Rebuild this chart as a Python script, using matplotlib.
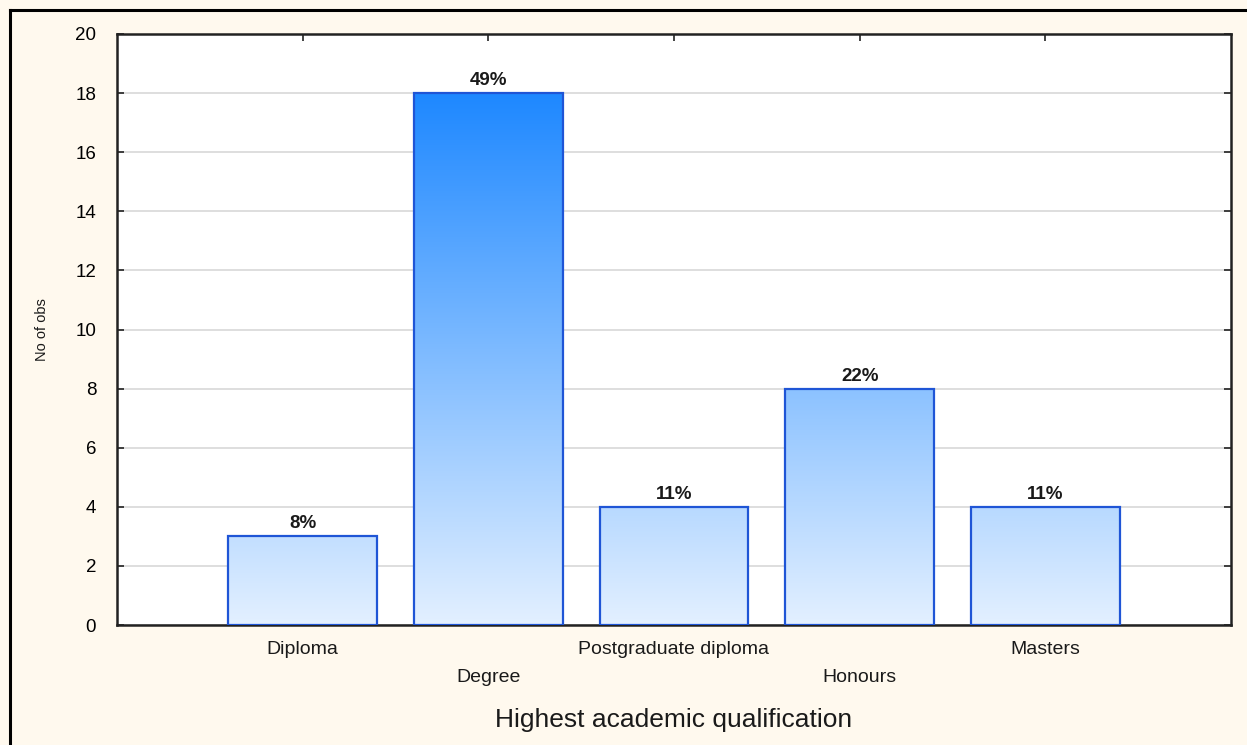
import matplotlib
matplotlib.use("Agg")
import matplotlib.pyplot as plt
import numpy as np
from matplotlib.colors import LinearSegmentedColormap
from matplotlib.lines import Line2D

categories = ["Diploma", "Degree", "Postgraduate diploma", "Honours", "Masters"]
counts = [3, 18, 4, 8, 4]
percent_labels = ["8%", "49%", "11%", "22%", "11%"]
y_ticks = [0, 2, 4, 6, 8, 10, 12, 14, 16, 18, 20]

plt.rcParams['font.family'] = ['Liberation Sans', 'DejaVu Sans']

W, H = 1247, 745
fig = plt.figure(figsize=(W / 100, H / 100), dpi=100)
fig.patch.set_facecolor("#FFF9EE")

ax = fig.add_axes([117 / W, 1 - 625 / H, (1231 - 117) / W, (625 - 34) / H])
ax.set_facecolor("white")

x = np.arange(1, len(categories) + 1)
cmap = LinearSegmentedColormap.from_list("bl", ["#E3F0FF", "#1E88FF"])
grad = np.linspace(0, 1, 256).reshape(-1, 1)

bars = ax.bar(x, counts, width=0.8, facecolor="none", edgecolor="#1F55D6",
              linewidth=1.6, zorder=3)
for b in bars:
    bx = b.get_x()
    bw = b.get_width()
    im = ax.imshow(grad, cmap=cmap, origin="lower", aspect="auto",
                   extent=[bx, bx + bw, 0, 18], vmin=0, vmax=1, zorder=2)
    im.set_clip_path(b)

for xi, c, lab in zip(x, counts, percent_labels):
    ax.annotate(lab, (xi, c), xytext=(0, 4), textcoords="offset pixels",
                ha="center", va="bottom", fontsize=13.5, fontweight="bold",
                color="#1a1a1a", zorder=4)

ax.set_xlim(0, 6)
ax.set_ylim(0, 20)
ax.set_yticks(y_ticks)
ax.set_yticklabels([str(v) for v in y_ticks], fontsize=13.5)
ax.set_xticks(x)
ax.set_xticklabels([])
ax.yaxis.grid(True, color="#D8D8D8", linewidth=1.2, zorder=1)
ax.set_axisbelow(True)
ax.tick_params(axis="both", direction="in", length=5, width=1.2,
               top=True, right=True, color="#222222")
ax.tick_params(axis="y", pad=15)
for s in ax.spines.values():
    s.set_linewidth(1.8)
    s.set_color("#222222")

for i, (xi, lab) in enumerate(zip(x, categories)):
    yoff = -25 if i % 2 == 0 else -52
    ax.annotate(lab, (xi, 0), xycoords=("data", "axes fraction"),
                xytext=(0, yoff), textcoords="offset pixels",
                ha="center", va="center", fontsize=14, color="#1a1a1a")

fig.text(674 / W, 1 - 720 / H, "Highest academic qualification",
         ha="center", va="center", fontsize=19, color="#1a1a1a")
fig.text(42 / W, 1 - 330 / H, "No of obs", rotation=90, ha="center",
         va="center", fontsize=10.5, color="#1a1a1a")

fig.add_artist(Line2D([10 / W, 10 / W], [0, 1 - 10 / H], transform=fig.transFigure,
                      color="black", linewidth=2.2))
fig.add_artist(Line2D([10 / W, 1], [1 - 10 / H, 1 - 10 / H], transform=fig.transFigure,
                      color="black", linewidth=2.2))

fig.savefig("out.png", dpi=100, facecolor=fig.get_facecolor())
